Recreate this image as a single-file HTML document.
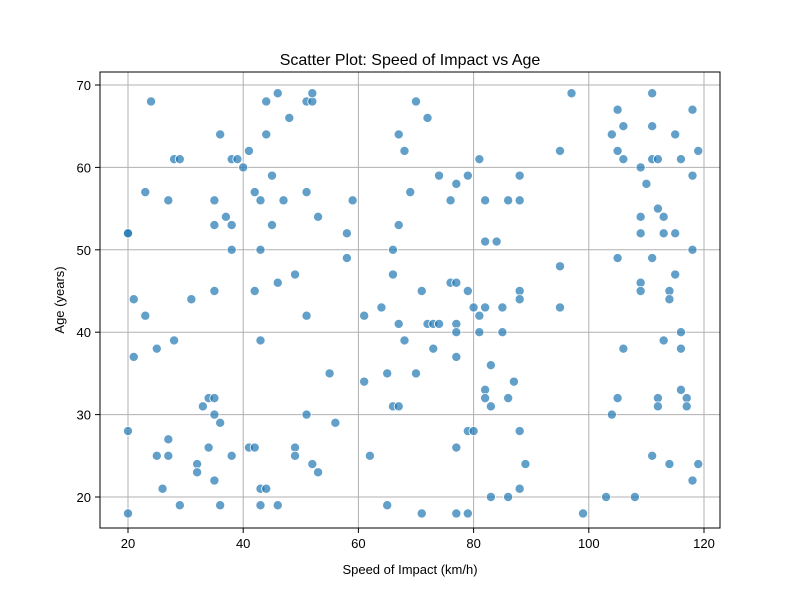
<!DOCTYPE html>
<html><head><meta charset="utf-8"><style>body{margin:0;background:#fff}svg{display:block;font-family:"Liberation Sans","DejaVu Sans",sans-serif}</style></head>
<body>
<svg id="chart" width="800" height="600" viewBox="0 0 800 600" xmlns="http://www.w3.org/2000/svg">
<rect width="800" height="600" fill="#fff"/>
<text x="410" y="65" text-anchor="middle" font-size="16">Scatter Plot: Speed of Impact vs Age</text>
<text x="410" y="574" text-anchor="middle" font-size="13">Speed of Impact (km/h)</text>
<text transform="translate(64,300) rotate(-90)" text-anchor="middle" font-size="13">Age (years)</text>
<g id="grid"></g><g id="pts"></g><g id="ticks"></g>
<rect x="100" y="72" width="620" height="456" fill="none" stroke="#000" stroke-width="1"/>
</svg>
<script>
const speeds=[20,20,20,20,21,21,23,23,24,25,25,26,27,27,27,28,28,29,29,31,32,32,33,34,34,35,35,35,35,35,35,36,36,36,37,38,38,38,38,39,40,41,41,42,42,42,43,43,43,43,43,44,44,44,45,45,46,46,46,47,48,49,49,49,51,51,51,51,52,52,52,53,53,55,56,58,58,59,61,61,62,64,65,65,66,66,66,67,67,67,67,68,68,69,70,70,71,71,72,72,73,73,74,74,76,76,77,77,77,77,77,77,77,79,79,79,79,80,80,81,81,81,82,82,82,82,82,83,83,83,84,85,85,86,86,86,87,88,88,88,88,88,88,89,95,95,95,97,99,103,104,104,105,105,105,105,106,106,106,108,109,109,109,109,109,110,111,111,111,111,111,112,112,112,112,113,113,113,114,114,114,115,115,115,116,116,116,116,117,117,118,118,118,118,119,119];
const ages=[52,52,28,18,44,37,57,42,68,38,25,21,56,27,25,61,39,61,19,44,24,23,31,32,26,56,53,45,32,30,22,64,29,19,54,61,53,50,25,61,60,62,26,57,45,26,56,50,39,21,19,68,64,21,59,53,69,46,19,56,66,47,26,25,68,57,42,30,68,69,24,54,23,35,29,52,49,56,42,34,25,43,35,19,50,47,31,64,53,41,31,62,39,57,68,35,45,18,66,41,41,38,59,41,56,46,58,46,41,40,37,26,18,59,45,28,18,43,28,61,42,40,56,51,43,33,32,36,31,20,51,43,40,56,32,20,34,59,56,45,44,28,21,24,62,48,43,69,18,20,64,30,67,62,49,32,65,61,38,20,60,54,52,46,45,58,69,65,61,49,25,61,55,32,31,54,52,39,45,44,24,64,52,47,61,40,38,33,32,31,67,59,50,22,62,24];
const xTicks=[20,40,60,80,100,120];
const yTicks=[20,30,40,50,60,70];
const NS="http://www.w3.org/2000/svg";
const X=v=>128+(v-20)*5.76, Y=v=>497-(v-20)*8.24;
function mk(t,a,p){const e=document.createElementNS(NS,t);for(const k in a)e.setAttribute(k,a[k]);p.appendChild(e);return e;}
const grid=document.getElementById('grid'),ticks=document.getElementById('ticks'),pts=document.getElementById('pts');
xTicks.forEach(v=>{const g=mk('line',{x1:X(v),x2:X(v),y1:72,y2:528,stroke:'#b0b0b0','stroke-width':1},grid);

mk('line',{x1:X(v),x2:X(v),y1:528,y2:533,stroke:'#000'},ticks);
const t=mk('text',{x:X(v),y:548,'text-anchor':'middle','font-size':13},ticks);t.textContent=v;
});
yTicks.forEach(v=>{const g=mk('line',{x1:100,x2:720,y1:Y(v),y2:Y(v),stroke:'#b0b0b0','stroke-width':1},grid);

mk('line',{x1:95,x2:100,y1:Y(v),y2:Y(v),stroke:'#000'},ticks);
const t=mk('text',{x:91,y:Y(v)+5,'text-anchor':'end','font-size':13},ticks);t.textContent=v;
});
speeds.forEach((s,i)=>{const c=mk('circle',{cx:X(s),cy:Y(ages[i]),r:4.6,fill:'#1f77b4','fill-opacity':0.7,stroke:'#fff','stroke-width':0.8},pts);
});
</script>
</body></html>
